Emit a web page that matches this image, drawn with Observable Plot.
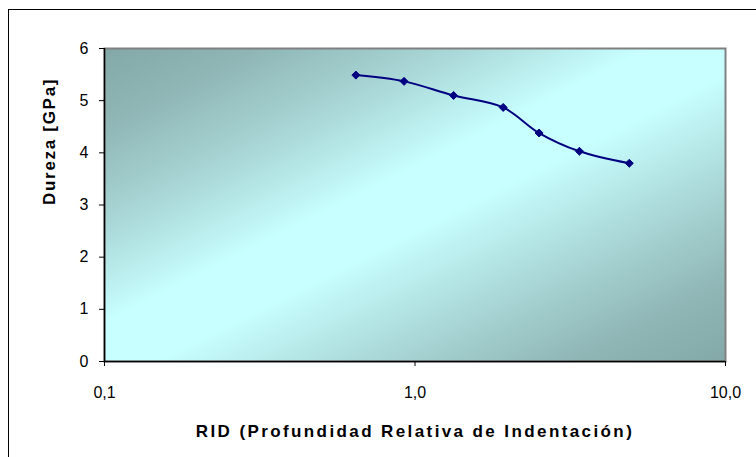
<!DOCTYPE html>
<html>
<head>
<meta charset="utf-8">
<script src="https://cdn.jsdelivr.net/npm/d3@7"></script>
<script src="https://cdn.jsdelivr.net/npm/@observablehq/plot@0.6"></script>
<style>
  html, body { margin: 0; padding: 0; background: #fff; overflow: hidden; width: 756px; height: 457px; }
  #wrap { position: relative; width: 756px; height: 457px; }
  #border { position: absolute; left: 8px; top: 9px; width: 800px; height: 500px; border-left: 1px solid #000; border-top: 1px solid #000; pointer-events: none; }
  svg { font-family: "Liberation Sans", Arial, sans-serif; }
</style>
</head>
<body>
<div id="wrap"><div id="border"></div></div>
<script>
// Data
const rid = [0.645, 0.922, 1.331, 1.923, 2.51, 3.385, 4.90];
const dureza = [5.49, 5.37, 5.10, 4.87, 4.38, 4.03, 3.80];
const xTicks = [0.1, 1, 10];
const yTicks = [0, 1, 2, 3, 4, 5, 6];
const xTitle = "RID (Profundidad Relativa de Indentación)";
const yTitle = "Dureza [GPa]";

const data = rid.map((x, i) => ({x, y: dureza[i]}));
const fmt = v => v.toFixed(1).replace(".", ",");

const chart = Plot.plot({
  width: 756,
  height: 457,
  marginLeft: 104,
  marginRight: 31,
  marginTop: 48,
  marginBottom: 96,
  style: {fontFamily: "'Liberation Sans', Arial, sans-serif", fontSize: "16px", color: "#000", background: "transparent", overflow: "visible"},
  x: {type: "log", domain: [0.1, 10], axis: null},
  y: {domain: [0, 6], axis: null},
  marks: [
    Plot.frame({fill: "url(#bggrad)", stroke: "#808080", strokeWidth: 2}),
    Plot.ruleX([0.1], {stroke: "#000", strokeWidth: 1.5}),
    Plot.ruleY([0], {stroke: "#000", strokeWidth: 1.5}),
    Plot.axisX({ticks: xTicks, tickFormat: fmt, tickSize: 5, tickPadding: 20, fontSize: 16, label: null, stroke: "#000"}),
    Plot.axisY({ticks: yTicks, tickFormat: d => String(d), tickSize: 5, tickPadding: 11, fontSize: 16, label: null, stroke: "#000"}),
    Plot.line(data, {x: "x", y: "y", curve: "catmull-rom", stroke: "#000080", strokeWidth: 2}),
    Plot.dot(data, {x: "x", y: "y", symbol: "diamond2", r: 3.6, fill: "#000080", stroke: "#000080", strokeWidth: 1}),
    Plot.text([xTitle], {text: d => d, frameAnchor: "bottom", dy: 75, fontSize: 17, fontWeight: "bold", fill: "#000"}),
    Plot.text([yTitle], {text: d => d, frameAnchor: "left", dx: -55, rotate: -90, fontSize: 17, fontWeight: "bold", fill: "#000"})
  ]
});

const svg = d3.select(chart);
const defs = svg.insert("defs", ":first-child");
const g = defs.append("linearGradient").attr("id", "bggrad")
  .attr("x1", 0).attr("y1", 0).attr("x2", 1).attr("y2", 1);
[
  [0, "#84A8A8"],
  [0.12, "#8FB5B5"],
  [0.28, "#A9D6D6"],
  [0.44, "#C8FFFF"],
  [0.54, "#C8FFFF"],
  [0.72, "#A9D6D6"],
  [0.88, "#8FB5B5"],
  [1, "#84A8A8"]
].forEach(([o, c]) => g.append("stop").attr("offset", o).attr("stop-color", c));

// letter spacing for titles (Excel-like wide rendering)
svg.selectAll("text").filter(function() { return this.textContent === xTitle; }).attr("letter-spacing", "2.4px");
svg.selectAll("text").filter(function() { return this.textContent === yTitle; }).attr("letter-spacing", "1.7px");

document.getElementById("wrap").insertBefore(chart, document.getElementById("border"));
chart.style.position = "absolute";
chart.style.left = "0";
chart.style.top = "0";
</script>
</body>
</html>
